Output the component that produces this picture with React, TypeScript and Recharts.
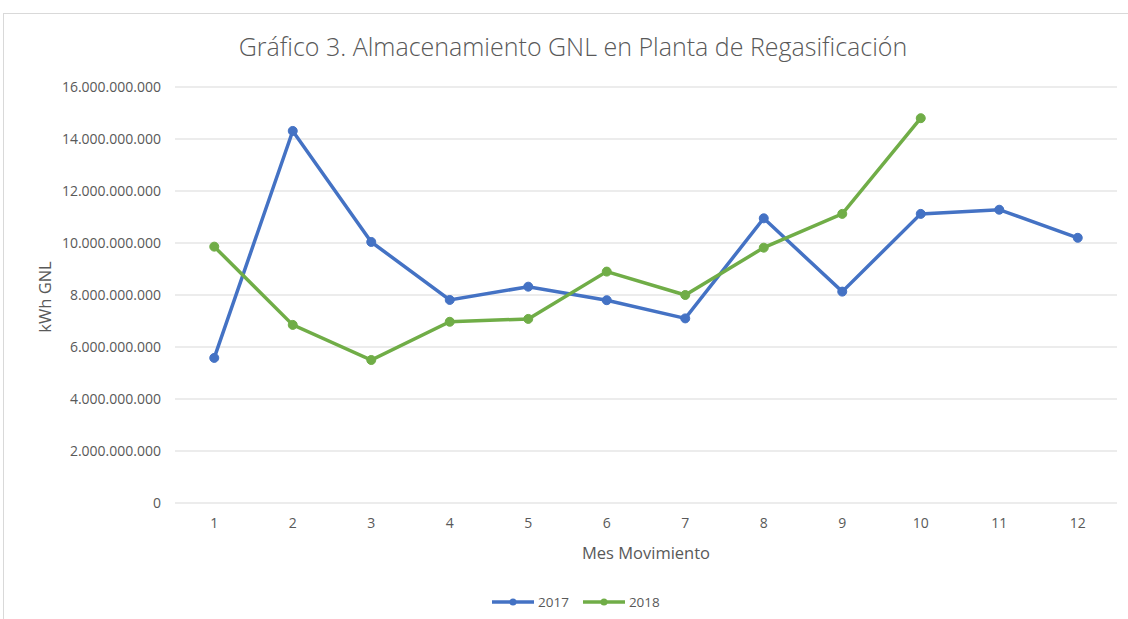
import React from 'react';
import { LineChart, Line, XAxis, YAxis, CartesianGrid } from 'recharts';

const months = ['1', '2', '3', '4', '5', '6', '7', '8', '9', '10', '11', '12'];
const values2017 = [5.58e9, 14.31e9, 10.04e9, 7.81e9, 8.32e9, 7.8e9, 7.1e9, 10.95e9, 8.13e9, 11.12e9, 11.28e9, 10.2e9];
const values2018: (number | null)[] = [9.86e9, 6.85e9, 5.5e9, 6.97e9, 7.08e9, 8.9e9, 8.0e9, 9.82e9, 11.12e9, 14.8e9, null, null];
const yTicks = [0, 2e9, 4e9, 6e9, 8e9, 10e9, 12e9, 14e9, 16e9];

const data = months.map((m, i) => ({ month: m, y2017: values2017[i], y2018: values2018[i] }));

const FONT = '"Open Sans", sans-serif';
const BLUE = '#4472C4';
const GREEN = '#70AD47';
const TEXT = '#595959';

const fmt = (v: number) => {
  const s = Math.round(v).toString();
  return s.replace(/\B(?=(\d{3})+(?!\d))/g, '.');
};

const LegendItem = ({ color, label }: { color: string; label: string }) => (
  <div style={{ display: 'flex', alignItems: 'center', marginRight: 14 }}>
    <svg width={42} height={10} style={{ marginRight: 4 }}>
      <line x1={0} y1={5} x2={42} y2={5} stroke={color} strokeWidth={3.5} />
      <circle cx={21} cy={5} r={3.5} fill={color} />
    </svg>
    <span>{label}</span>
  </div>
);

export default function App() {
  return (
    <div style={{ position: 'fixed', left: 0, top: 0, width: 1128, height: 619, background: '#fff', fontFamily: FONT, overflow: 'hidden' }}>
      <div style={{ position: 'absolute', left: 3, top: 13, width: 1140, height: 620, border: '1px solid #d9d9d9', boxSizing: 'border-box' }} />
      <div style={{ position: 'absolute', left: 0, width: 1146, top: 29, textAlign: 'center', fontSize: 25, color: TEXT, fontWeight: 300 }}>
        Gráfico 3. Almacenamiento GNL en Planta de Regasificación
      </div>
      <div style={{ position: 'absolute', left: 44, top: 297, transform: 'translate(-50%, -50%) rotate(-90deg)', fontSize: 16.5, color: TEXT, whiteSpace: 'nowrap' }}>
        kWh GNL
      </div>
      <div style={{ position: 'absolute', left: 646, top: 552, transform: 'translate(-50%, -50%)', fontSize: 16.5, color: TEXT, whiteSpace: 'nowrap' }}>
        Mes Movimiento
      </div>
      <div style={{ position: 'absolute', left: 492, top: 593, display: 'flex', fontSize: 13.5, color: TEXT }}>
        <LegendItem color={BLUE} label="2017" />
        <LegendItem color={GREEN} label="2018" />
      </div>
      <div style={{ position: 'absolute', left: 0, top: 0 }}>
        <LineChart width={1128} height={619} data={data} margin={{ top: 87, right: 11, bottom: 86, left: 0 }}>
          <CartesianGrid vertical={false} stroke="#d9d9d9" strokeWidth={1} />
          <XAxis
            dataKey="month"
            axisLine={false}
            tickLine={false}
            tickSize={0}
            tickMargin={15}
            height={30}
            padding={{ left: 39.25, right: 39.25 }}
            tick={{ fill: TEXT, fontSize: 14, fontFamily: FONT }}
          />
          <YAxis
            width={175}
            domain={[0, 16e9]}
            ticks={yTicks}
            axisLine={false}
            tickLine={false}
            tickSize={0}
            tickMargin={14}
            tickFormatter={fmt}
            tick={{ fill: TEXT, fontSize: 14, fontFamily: FONT }}
          />
          <Line dataKey="y2017" stroke={BLUE} strokeWidth={3.5} dot={{ r: 4.5, fill: BLUE, stroke: BLUE, strokeWidth: 1 }} isAnimationActive={false} />
          <Line dataKey="y2018" stroke={GREEN} strokeWidth={3.5} dot={{ r: 4.5, fill: GREEN, stroke: GREEN, strokeWidth: 1 }} isAnimationActive={false} />
        </LineChart>
      </div>
    </div>
  );
}
